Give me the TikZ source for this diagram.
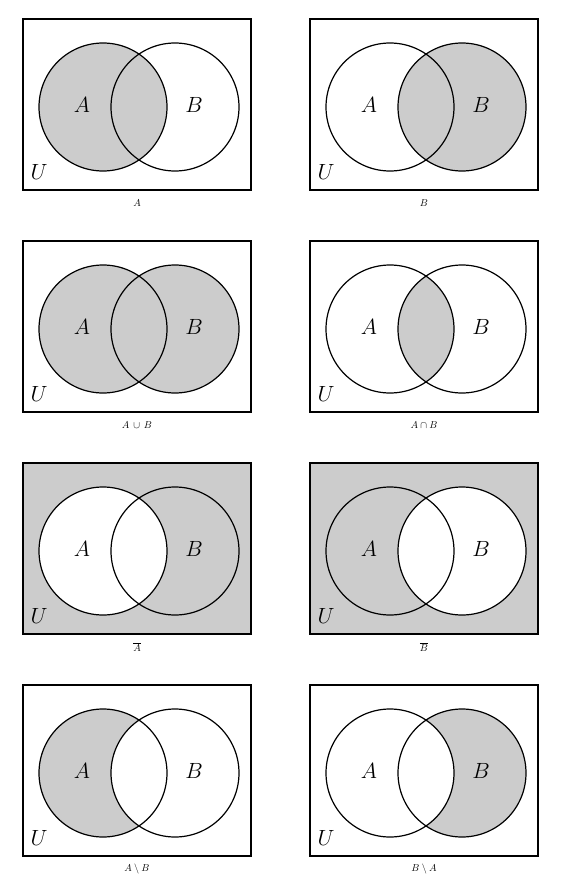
\documentclass[tikz,border=0pt]{standalone}
\usepackage{fix-cm}
\usetikzlibrary{positioning}
\definecolor{venngray}{RGB}{204,204,204}
\tikzset{
  setfill/.style={fill=venngray},
  outline/.style={line width=1.2pt},
  setlabel/.style={font=\fontsize{22}{26}\selectfont},
  caption/.style={font=\fontsize{10}{12}\selectfont}
}
\begin{document}
\begin{tikzpicture}[x=1pt,y=-1pt]
	\useasboundingbox (0,0) rectangle (566,883);
	% row 1: A and B
	\begin{scope}
		\fill[setfill] (103,107) circle (64);
		\draw[outline] (103,107) circle (64) (175,107) circle (64);
		\draw[outline] (23,19) rectangle (251,190);
		\node[setlabel] (a1) at (82,105) {$A$};
		\node[setlabel] (b1) at (194,105) {$B$};
		\node[setlabel] (u1) at (39,172) {$U$};
		\node[caption] (c1) at (137,203) {$A$};
	\end{scope}
	\begin{scope}[xshift=287pt]
		\fill[setfill] (175,107) circle (64);
		\draw[outline] (103,107) circle (64) (175,107) circle (64);
		\draw[outline] (23,19) rectangle (251,190);
		\node[setlabel] (a2) at (82,105) {$A$};
		\node[setlabel] (b2) at (194,105) {$B$};
		\node[setlabel] (u2) at (39,172) {$U$};
		\node[caption] (c2) at (137,203) {$B$};
	\end{scope}
	% row 2: union and intersection
	\begin{scope}[yshift=-222pt]
		\fill[setfill] (103,107) circle (64) (175,107) circle (64);
		\draw[outline] (103,107) circle (64) (175,107) circle (64);
		\draw[outline] (23,19) rectangle (251,190);
		\node[setlabel] (a3) at (82,105) {$A$};
		\node[setlabel] (b3) at (194,105) {$B$};
		\node[setlabel] (u3) at (39,172) {$U$};
		\node[caption] (c3) at (137,203) {$A\,\cup\,B$};
	\end{scope}
	\begin{scope}[xshift=287pt,yshift=-222pt]
		\begin{scope}
			\clip (103,107) circle (64);
			\fill[setfill] (175,107) circle (64);
		\end{scope}
		\draw[outline] (103,107) circle (64) (175,107) circle (64);
		\draw[outline] (23,19) rectangle (251,190);
		\node[setlabel] (a4) at (82,105) {$A$};
		\node[setlabel] (b4) at (194,105) {$B$};
		\node[setlabel] (u4) at (39,172) {$U$};
		\node[caption] (c4) at (137,203) {$A\cap B$};
	\end{scope}
	% row 3: complements
	\begin{scope}[yshift=-444pt]
		\fill[setfill] (23,19) rectangle (251,190);
		\fill[white] (103,107) circle (64);
		\draw[outline] (103,107) circle (64) (175,107) circle (64);
		\draw[outline] (23,19) rectangle (251,190);
		\node[setlabel] (a5) at (82,105) {$A$};
		\node[setlabel] (b5) at (194,105) {$B$};
		\node[setlabel] (u5) at (39,172) {$U$};
		\node[caption] (c5) at (137,203) {$\overline{A}$};
	\end{scope}
	\begin{scope}[xshift=287pt,yshift=-444pt]
		\fill[setfill] (23,19) rectangle (251,190);
		\fill[white] (175,107) circle (64);
		\draw[outline] (103,107) circle (64) (175,107) circle (64);
		\draw[outline] (23,19) rectangle (251,190);
		\node[setlabel] (a6) at (82,105) {$A$};
		\node[setlabel] (b6) at (194,105) {$B$};
		\node[setlabel] (u6) at (39,172) {$U$};
		\node[caption] (c6) at (137,203) {$\overline{B}$};
	\end{scope}
	% row 4: differences
	\begin{scope}[yshift=-666pt]
		\fill[setfill] (103,107) circle (64);
		\fill[white] (175,107) circle (64);
		\draw[outline] (103,107) circle (64) (175,107) circle (64);
		\draw[outline] (23,19) rectangle (251,190);
		\node[setlabel] (a7) at (82,105) {$A$};
		\node[setlabel] (b7) at (194,105) {$B$};
		\node[setlabel] (u7) at (39,172) {$U$};
		\node[caption] (c7) at (137,203) {$A\setminus B$};
	\end{scope}
	\begin{scope}[xshift=287pt,yshift=-666pt]
		\fill[setfill] (175,107) circle (64);
		\fill[white] (103,107) circle (64);
		\draw[outline] (103,107) circle (64) (175,107) circle (64);
		\draw[outline] (23,19) rectangle (251,190);
		\node[setlabel] (a8) at (82,105) {$A$};
		\node[setlabel] (b8) at (194,105) {$B$};
		\node[setlabel] (u8) at (39,172) {$U$};
		\node[caption] (c8) at (137,203) {$B\setminus A$};
	\end{scope}
\end{tikzpicture}
\end{document}
